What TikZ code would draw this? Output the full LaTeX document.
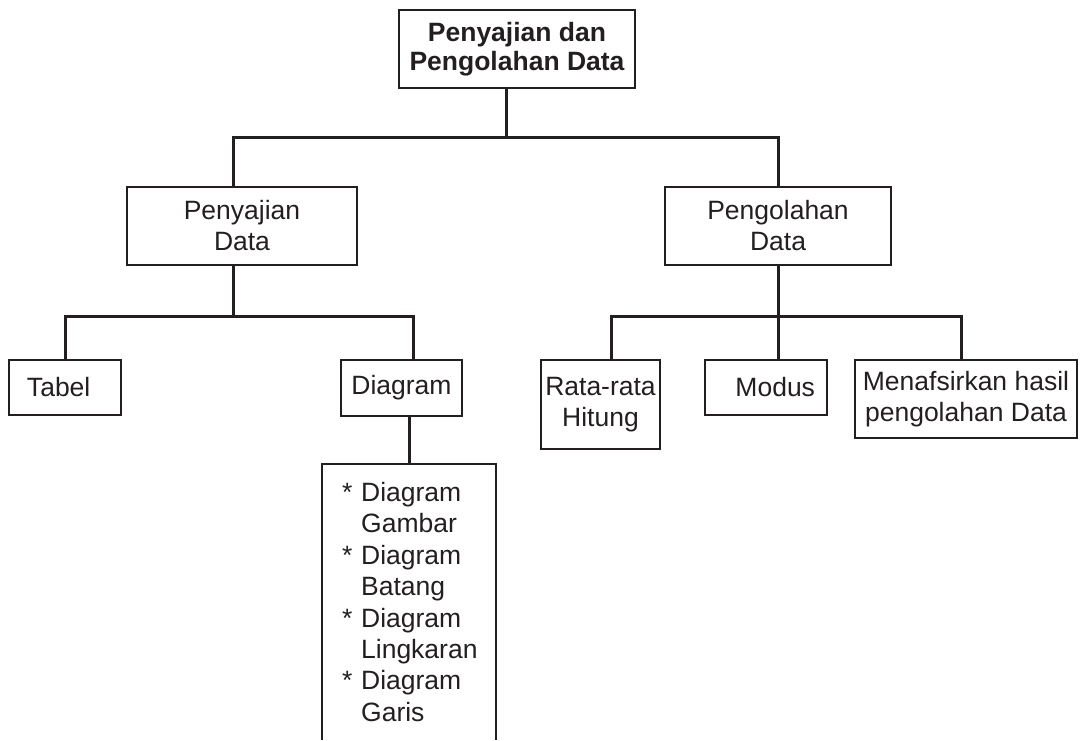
\documentclass[tikz,border=0pt]{standalone}
\usepackage{fontspec}
\setmainfont{Liberation Sans}
\usetikzlibrary{positioning}
\definecolor{inkline}{HTML}{231F20}
\newcommand{\boxfont}{\fontsize{26.5}{31}\selectfont}
\newcommand{\headfont}{\fontsize{26.5}{29}\selectfont\bfseries}
\tikzset{
  chartbox/.style = {draw=inkline, line width=2.4pt, inner sep=0pt, align=center,
                     text=inkline, font=\boxfont},
  headbox/.style  = {chartbox, font=\headfont},
  listbox/.style  = {inner sep=0pt, align=left, text=inkline,
                     font=\fontsize{26.5}{31.4}\selectfont},
  branch/.style   = {draw=inkline, line width=3pt},
  rim/.style      = {draw=inkline, line width=2.4pt},
}

\begin{document}
\begin{tikzpicture}[x=1pt, y=-1pt]
  \useasboundingbox (0,0) rectangle (1081,740);

  \node[headbox, minimum width=236, minimum height=78] (top) at (517,49)
       {Penyajian dan\\ Pengolahan Data};

  \node[chartbox, minimum width=230, minimum height=78] (pen) at (242,226)
       {Penyajian\\ Data};
  \node[chartbox, minimum width=226, minimum height=78] (pgl) at (778,226)
       {Pengolahan\\ Data};

  \node[chartbox, minimum height=55, text width=76, inner xsep=18,
        align=left] (tab) at (65,387.5) {Tabel};
  \node[chartbox, minimum width=121, minimum height=56] (dgm) at (401.5,388)
       {Diagram};
  \node[listbox, minimum width=174, minimum height=276, text width=134,
        inner xsep=20] (lst) at (409,602)
       {{*} Diagram\\ \phantom{* }Gambar\\
        {*} Diagram\\ \phantom{* }Batang\\
        {*} Diagram\\ \phantom{* }Lingkaran\\
        {*} Diagram\\ \phantom{* }Garis};

  \node[chartbox, minimum width=119, minimum height=89] (rata) at (600.5,404.5)
       {Rata-rata\\ Hitung};
  \node[chartbox, minimum height=55, text width=98, inner xsep=12,
        align=right] (mod) at (766,387.5) {Modus};
  \node[chartbox, minimum width=222, minimum height=78] (maf) at (966,399)
       {Menafsirkan hasil\\ pengolahan Data};

  \coordinate (j1) at (506,137);
  \coordinate (j2) at (233,316);
  \coordinate (j3) at (778,316);

  \draw[rim] (lst.south west) |- (lst.north east) -- (lst.south east);

  \draw[branch] (top.south -| j1) -- (j1);
  \draw[branch] (pen.north -| j2) |- (j1) -| (pgl.north);
  \draw[branch] (pen.south -| j2) -- (j2);
  \draw[branch] (tab.north) |- (j2) -| ([xshift=12pt]dgm.north);
  \draw[branch] (dgm.south -| lst.north) -- (lst.north);
  \draw[branch] (pgl.south) -- (j3);
  \draw[branch] ([xshift=11pt]rata.north) |- (j3) -| ([xshift=-5pt]maf.north);
  \draw[branch] (j3) -- (mod.north -| j3);
\end{tikzpicture}
\end{document}
